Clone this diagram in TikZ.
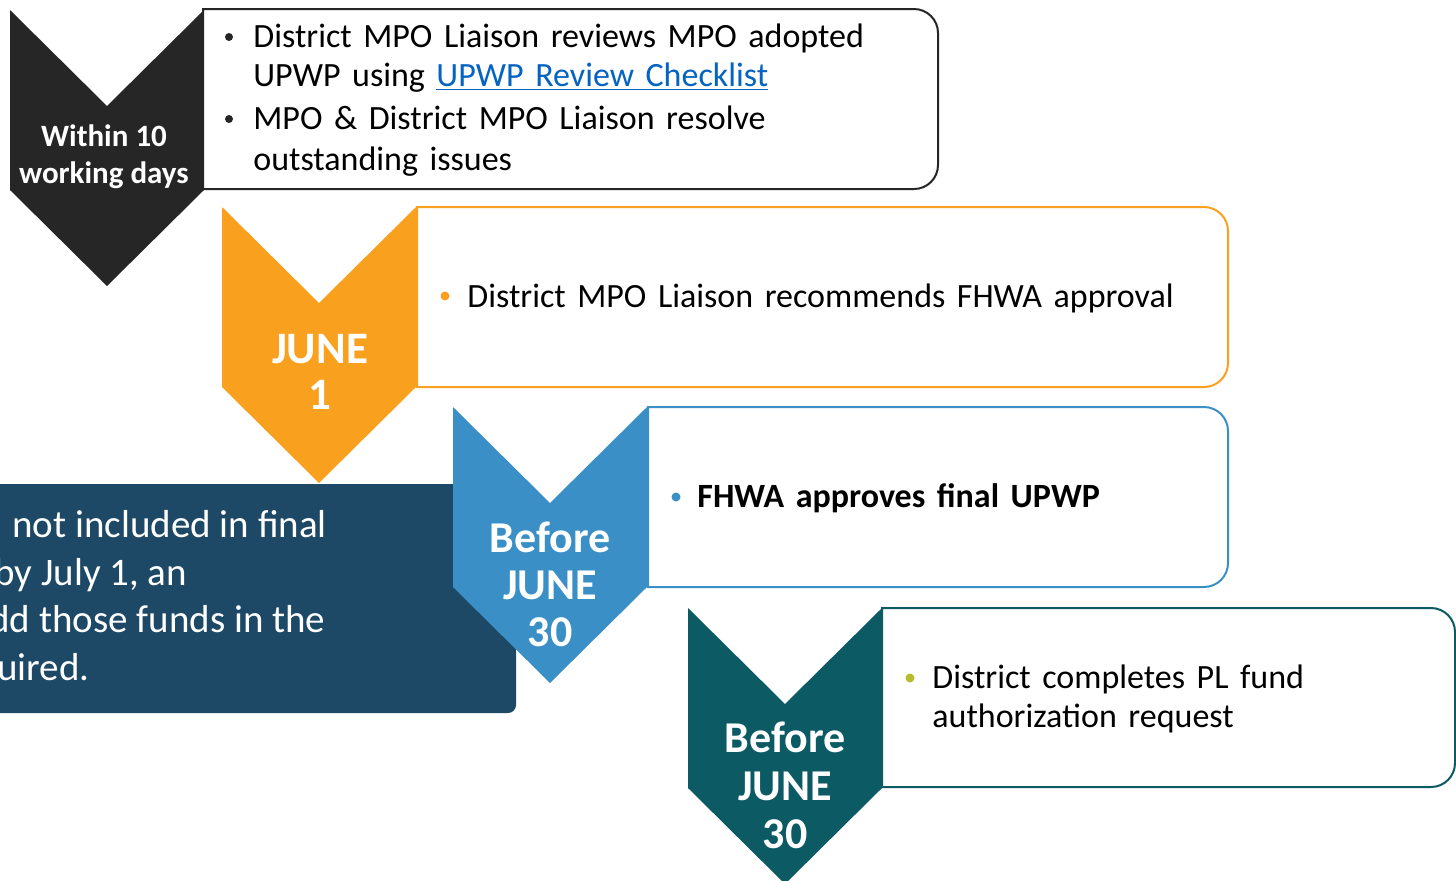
\documentclass[tikz,border=0pt]{standalone}
\usepackage{fontspec}
\setmainfont{Carlito}
\newfontfamily\cardfont[WordSpace=1.5]{Carlito}
\definecolor{stepblack}{HTML}{262626}
\definecolor{steporange}{HTML}{F9A11F}
\definecolor{stepblue}{HTML}{3A8FC7}
\definecolor{stepteal}{HTML}{0B5A64}
\definecolor{notenavy}{HTML}{1D4966}
\definecolor{linkblue}{HTML}{0563C1}
\definecolor{dotolive}{HTML}{B5BD2E}
% chevron: top left corner x, y, colour
\newcommand{\chevshape}[3]{\fill[#3] (#1,#2) -- ++(97,96) -- ++(97,-96) -- ++(0,180) -- ++(-97,96) -- ++(-97,-96) -- cycle;}
% card: left x, top y, right x, bottom y, colour
\newcommand{\cardshape}[5]{\draw[card=#5] (#1,#4) -- (#1,#2) [rounded corners=12pt] -- (#3,#2) -- (#3,#4) [sharp corners] -- cycle;}

\begin{document}
\begin{tikzpicture}[x=0.5pt,y=-0.5pt,
    card/.style={draw=#1, line width=1pt, fill=white},
    day/.style={anchor=base, inner sep=0pt, text=white, font=\bfseries\fontsize{22}{24}\selectfont},
    txt/.style={anchor=base west, inner sep=0pt, font=\cardfont\fontsize{17}{20}\selectfont},
    note/.style={anchor=base west, inner sep=0pt, text=white, font=\fontsize{19.5}{22}\selectfont},
    dot/.style={circle, fill=#1, inner sep=0pt, minimum size=4.5pt}]
\useasboundingbox (0,0) rectangle (1456,880);

% within 10 working days
\chevshape{10}{10}{stepblack}
\cardshape{203}{9}{938}{189}{stepblack}
\node[day, font=\bfseries\fontsize{15.5}{18}\selectfont] (w1) at (104,146) {Within 10};
\node[day, font=\bfseries\fontsize{15.5}{18}\selectfont] (w2) at (104,183) {working days};
\node[dot=stepblack, minimum size=4pt] (b1) at (229,37) {};
\node[txt] (t1) at (253,47) {District MPO Liaison reviews MPO adopted};
\node[txt] (t2) at (253,86) {UPWP using \textcolor{linkblue}{\underline{UPWP Review Checklist}}};
\node[dot=stepblack, minimum size=4pt] (b2) at (229,119) {};
\node[txt] (t3) at (253,129) {MPO \& District MPO Liaison resolve};
\node[txt] (t4) at (253,170) {outstanding issues};

% june 1
\chevshape{222}{207}{steporange}
\cardshape{417}{207}{1228}{387}{steporange}
\node[day, font=\bfseries\fontsize{22.5}{24}\selectfont] (j1) at (320,363) {JUNE};
\node[day, font=\bfseries\fontsize{22.5}{24}\selectfont] (j2) at (320,409) {1};
\node[dot=steporange] (b3) at (445,296) {};
\node[txt] (t5) at (467,307) {District MPO Liaison recommends FHWA approval};

% note box (cut at the left edge)
\fill[notenavy] (-10,484) -- (516,484) [rounded corners=4pt] -- (516,713) [sharp corners] -- (-10,713) -- cycle;
\node[note] (n1) at (12,537) {not included in final};
\node[note] (n2) at (-6,585) {by July 1, an};
\node[note] (n3) at (-11,632) {dd those funds in the};
\node[note] (n4) at (-3,680) {uired.};

% before june 30 (fhwa)
\chevshape{453}{407}{stepblue}
\cardshape{648}{407}{1228}{587}{stepblue}
\node[day] (f1) at (550,552) {Before};
\node[day] (f2) at (550,599) {JUNE};
\node[day] (f3) at (550,646) {30};
\node[dot=stepblue] (b4) at (676,497) {};
\node[txt, font=\cardfont\bfseries\fontsize{17}{20}\selectfont] (t6) at (697,507) {FHWA approves final UPWP};

% before june 30 (district)
\chevshape{688}{608}{stepteal}
\cardshape{882}{608}{1455}{787}{stepteal}
\node[day] (d1) at (785,752) {Before};
\node[day] (d2) at (785,800) {JUNE};
\node[day] (d3) at (785,848) {30};
\node[dot=dotolive] (b5) at (910,678) {};
\node[txt] (t7) at (932,688) {District completes PL fund};
\node[txt] (t8) at (932,727) {authorization request};
\end{tikzpicture}
\end{document}
